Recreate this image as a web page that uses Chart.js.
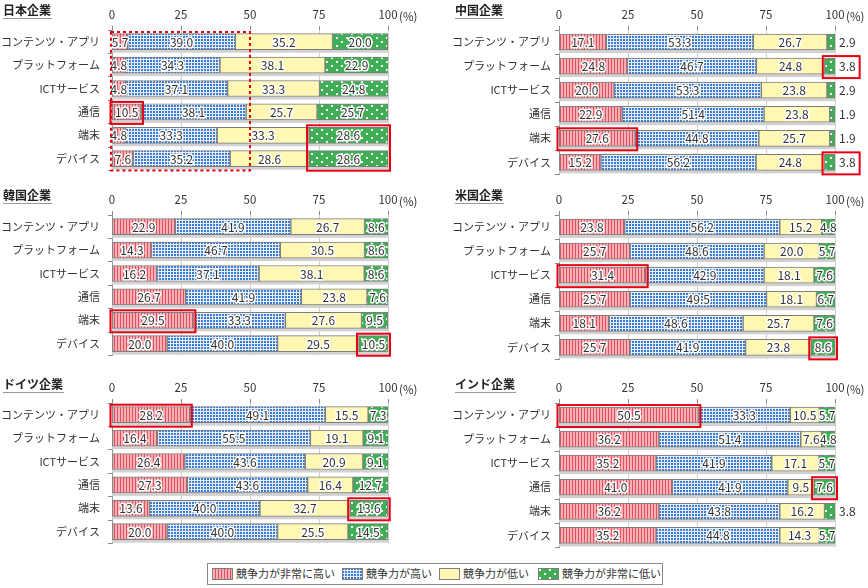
<!DOCTYPE html>
<html><head><meta charset="utf-8">
<script src="https://cdn.jsdelivr.net/npm/chart.js@4.4.0/dist/chart.umd.min.js"></script>
<style>
body{margin:0;background:#fff;width:868px;height:588px;position:relative;overflow:hidden;font-family:"Noto Sans CJK JP",sans-serif;}
.t{position:absolute;font-weight:bold;font-size:12px;color:#222;border-bottom:1px solid #9a9a9a;line-height:14px;padding:0 1px 1px 0}
canvas.c{position:absolute}
#legend{position:absolute;left:207px;top:563px;width:456px;height:22px;border:1px solid #888;box-sizing:border-box;font-size:11px;color:#333}
.li{position:absolute;top:4px;height:12px;line-height:12px;}
.li canvas{position:absolute;left:0;top:0}
.li span{position:absolute;left:24px;top:-1px;white-space:nowrap}
</style></head><body>
<div id="legend"></div>
<script>
const categories = ['コンテンツ・アプリ','プラットフォーム','ICTサービス','通信','端末','デバイス'];
const seriesNames = ['競争力が非常に高い','競争力が高い','競争力が低い','競争力が非常に低い'];
const xTicks = [0, 25, 50, 75, 100];

const japanVeryHigh = [5.7, 4.8, 4.8, 10.5, 4.8, 7.6];
const japanHigh     = [39.0, 34.3, 37.1, 38.1, 33.3, 35.2];
const japanLow      = [35.2, 38.1, 33.3, 25.7, 33.3, 28.6];
const japanVeryLow  = [20.0, 22.9, 24.8, 25.7, 28.6, 28.6];

const chinaVeryHigh = [17.1, 24.8, 20.0, 22.9, 27.6, 15.2];
const chinaHigh     = [53.3, 46.7, 53.3, 51.4, 44.8, 56.2];
const chinaLow      = [26.7, 24.8, 23.8, 23.8, 25.7, 24.8];
const chinaVeryLow  = [2.9, 3.8, 2.9, 1.9, 1.9, 3.8];

const koreaVeryHigh = [22.9, 14.3, 16.2, 26.7, 29.5, 20.0];
const koreaHigh     = [41.9, 46.7, 37.1, 41.9, 33.3, 40.0];
const koreaLow      = [26.7, 30.5, 38.1, 23.8, 27.6, 29.5];
const koreaVeryLow  = [8.6, 8.6, 8.6, 7.6, 9.5, 10.5];

const usVeryHigh = [23.8, 25.7, 31.4, 25.7, 18.1, 25.7];
const usHigh     = [56.2, 48.6, 42.9, 49.5, 48.6, 41.9];
const usLow      = [15.2, 20.0, 18.1, 18.1, 25.7, 23.8];
const usVeryLow  = [4.8, 5.7, 7.6, 6.7, 7.6, 8.6];

const germanyVeryHigh = [28.2, 16.4, 26.4, 27.3, 13.6, 20.0];
const germanyHigh     = [49.1, 55.5, 43.6, 43.6, 40.0, 40.0];
const germanyLow      = [15.5, 19.1, 20.9, 16.4, 32.7, 25.5];
const germanyVeryLow  = [7.3, 9.1, 9.1, 12.7, 13.6, 14.5];

const indiaVeryHigh = [50.5, 36.2, 35.2, 41.0, 36.2, 35.2];
const indiaHigh     = [33.3, 51.4, 41.9, 41.9, 43.8, 44.8];
const indiaLow      = [10.5, 7.6, 17.1, 9.5, 16.2, 14.3];
const indiaVeryLow  = [5.7, 4.8, 5.7, 7.6, 3.8, 5.7];

// highlights: categories from c0 to c1, dataset index
const panels = [
  {title:'日本企業', col:0, row:0, data:[japanVeryHigh,japanHigh,japanLow,japanVeryLow],
   boxes:[{c0:3,c1:3,ds:0},{c0:4,c1:5,ds:3}], dashed:true},
  {title:'中国企業', col:1, row:0, data:[chinaVeryHigh,chinaHigh,chinaLow,chinaVeryLow],
   boxes:[{c0:1,c1:1,ds:3},{c0:4,c1:4,ds:0},{c0:5,c1:5,ds:3}]},
  {title:'韓国企業', col:0, row:1, data:[koreaVeryHigh,koreaHigh,koreaLow,koreaVeryLow],
   boxes:[{c0:4,c1:4,ds:0},{c0:5,c1:5,ds:3}]},
  {title:'米国企業', col:1, row:1, data:[usVeryHigh,usHigh,usLow,usVeryLow],
   boxes:[{c0:2,c1:2,ds:0},{c0:5,c1:5,ds:3}]},
  {title:'ドイツ企業', col:0, row:2, data:[germanyVeryHigh,germanyHigh,germanyLow,germanyVeryLow],
   boxes:[{c0:0,c1:0,ds:0},{c0:4,c1:4,ds:3}]},
  {title:'インド企業', col:1, row:2, data:[indiaVeryHigh,indiaHigh,indiaLow,indiaVeryLow],
   boxes:[{c0:0,c1:0,ds:0},{c0:3,c1:3,ds:3}]}
];

function mkPat(kind){
  const c=document.createElement('canvas'); const g=c.getContext('2d');
  if(kind===0){c.width=3;c.height=3;g.fillStyle='#f6b0b6';g.fillRect(0,0,3,3);g.fillStyle='#e2505e';g.fillRect(0,0,1,3);}
  else if(kind===1){c.width=3;c.height=3;g.fillStyle='#e8f0fb';g.fillRect(0,0,3,3);g.fillStyle='#3b7bd4';g.fillRect(0,0,2,2);}
  else if(kind===2){return '#fff8b4';}
  else {c.width=10;c.height=8;g.fillStyle='#3fae55';g.fillRect(0,0,10,8);g.fillStyle='#ffffff';g.fillRect(1,1,2,2);g.fillRect(6,5,2,2);}
  return g.createPattern(c,'repeat');
}
const fills=[mkPat(0),mkPat(1),mkPat(2),mkPat(3)];
const FONT='"Noto Sans CJK JP", sans-serif';

function labelOutside(ds,v){return ds===3 && v<4;}

const deco={
  id:'deco',
  beforeDatasetsDraw(chart){
    const ctx=chart.ctx, xs=chart.scales.x;
    const meta=chart.getDatasetMeta(0);
    const x0=xs.getPixelForValue(0), x1=xs.getPixelForValue(100);
    ctx.save(); ctx.fillStyle='#d2d2d2';
    meta.data.forEach(b=>{const p=b.getProps(['y','height'],true); ctx.fillRect(x0,p.y+p.height/2,x1-x0,3);});
    ctx.restore();
  },
  afterDatasetsDraw(chart){
    const ctx=chart.ctx, xs=chart.scales.x;
    ctx.save();
    ctx.font='12px '+FONT; ctx.textBaseline='middle'; ctx.lineJoin='round';
    chart.data.datasets.forEach((d,di)=>{
      const meta=chart.getDatasetMeta(di);
      meta.data.forEach((b,i)=>{
        const p=b.getProps(['x','y','base'],true);
        const v=d.data[i]; const s=v.toFixed(1);
        let tx, align;
        if(labelOutside(di,v)){tx=xs.getPixelForValue(100)+4; align='left';}
        else {tx=(p.x+p.base)/2; align='center';}
        ctx.textAlign=align;
        if(align==='center'){ctx.strokeStyle='#ffffff';ctx.lineWidth=3;ctx.strokeText(s,tx,p.y+0.5);}
        ctx.fillStyle='#333';ctx.fillText(s,tx,p.y+0.5);
      });
    });
    ctx.restore();
  },
  afterDraw(chart){
    const ctx=chart.ctx, xs=chart.scales.x, ca=chart.chartArea;
    const cfg=chart.options.plugins.deco;
    ctx.save();
    ctx.font='11.5px '+FONT; ctx.fillStyle='#333'; ctx.textAlign='left'; ctx.textBaseline='middle';
    ctx.fillText('(%)', xs.getPixelForValue(100)+11, ca.top-13);
    ctx.strokeStyle='#e60012'; ctx.lineWidth=2;
    ctx.font='12px '+FONT;
    cfg.boxes.forEach(bx=>{
      const meta=chart.getDatasetMeta(bx.ds);
      let l=1e9,r=-1e9,t=1e9,bt=-1e9;
      for(let c=bx.c0;c<=bx.c1;c++){
        const p=meta.data[c].getProps(['x','y','base','height'],true);
        const v=chart.data.datasets[bx.ds].data[c];
        l=Math.min(l,p.base); r=Math.max(r,p.x);
        if(labelOutside(bx.ds,v)){ r=Math.max(r, xs.getPixelForValue(100)+4+ctx.measureText(v.toFixed(1)).width+2); }
        t=Math.min(t,p.y-p.height/2); bt=Math.max(bt,p.y+p.height/2);
      }
      ctx.strokeRect(l-2,t-2,r-l+4,bt-t+6);
    });
    if(cfg.dashed){
      ctx.setLineDash([3,3]);
      const x0=xs.getPixelForValue(0), x5=xs.getPixelForValue(50);
      ctx.strokeRect(x0-1,ca.top+2,x5-x0+1,ca.bottom-ca.top-2);
    }
    ctx.restore();
  }
};

const rowTops=[0,185,373];
const titleTops=[3,188,377];
panels.forEach(pn=>{
  const cv=document.createElement('canvas');
  cv.className='c'; cv.width=434; cv.height=185;
  cv.style.left=(pn.col*434)+'px'; cv.style.top=rowTops[pn.row]+'px';
  document.body.appendChild(cv);
  const t=document.createElement('div'); t.className='t'; t.textContent=pn.title;
  t.style.left=(pn.col? 455:3)+'px'; t.style.top=titleTops[pn.row]+'px';
  document.body.appendChild(t);
  const yw = pn.col?125:112;
  new Chart(cv,{
    type:'bar',
    data:{labels:categories, datasets:pn.data.map((arr,i)=>({
      label:seriesNames[i], data:arr, backgroundColor:fills[i], borderColor:'#7d7d7d', borderWidth:1,
      borderSkipped:false, barThickness:16 }))},
    options:{
      indexAxis:'y', responsive:false, animation:false, devicePixelRatio:1, events:[],
      layout:{padding:{left:0,right:pn.col?33:46,top:0,bottom:7}},
      scales:{
        x:{position:'top', stacked:true, min:0, max:100,
           afterBuildTicks(s){s.ticks=xTicks.map(v=>({value:v}));},
           afterFit(s){s.height=30;},
           ticks:{color:'#333', font:{size:11.5,family:FONT}, padding:4, maxRotation:0},
           grid:{color:'#cfcfcf', tickColor:'#888', tickLength:4, lineWidth:1},
           border:{display:false}},
        y:{stacked:true,
           afterFit(s){s.width=yw;},
           ticks:{color:'#333', font:{size:11,family:FONT}, padding:pn.col?4:8},
           grid:{drawOnChartArea:false, tickLength:4, color:'#888', offset:true},
           border:{display:true,color:'#999'}}
      },
      plugins:{legend:{display:false}, tooltip:{enabled:false}, deco:{boxes:pn.boxes, dashed:!!pn.dashed}}
    },
    plugins:[deco]
  });
});

// legend
const lg=document.getElementById('legend');
const lx=[4,134,231,330];
seriesNames.forEach((n,i)=>{
  const d=document.createElement('div'); d.className='li'; d.style.left=lx[i]+'px';
  const c=document.createElement('canvas'); c.width=21; c.height=12;
  const g=c.getContext('2d'); g.fillStyle=fills[i]; g.fillRect(0,0,21,12);
  g.strokeStyle='#7d7d7d'; g.lineWidth=1; g.strokeRect(0.5,0.5,20,11);
  const s=document.createElement('span'); s.textContent=n;
  d.appendChild(c); d.appendChild(s); lg.appendChild(d);
});
</script>
</body></html>
